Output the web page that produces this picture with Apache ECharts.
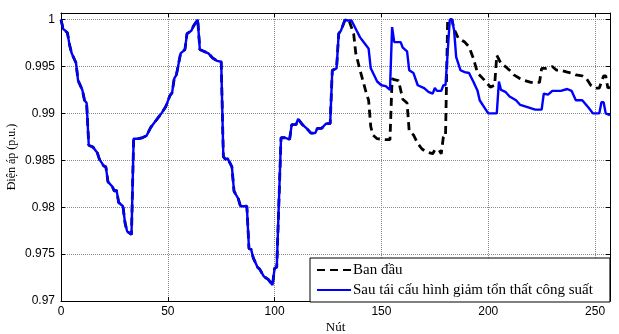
<!DOCTYPE html>
<html>
<head>
<meta charset="utf-8">
<script src="https://cdn.jsdelivr.net/npm/echarts@6/dist/echarts.min.js"></script>
<style>
  html, body { margin: 0; padding: 0; background: #fff; }
  #chart { width: 619px; height: 334px; }
</style>
</head>
<body>
<div id="chart"></div>
<script>
// Bus voltage profile (p.u.) along the feeder, before and after reconfiguration.
// Nodes where both profiles coincide (start of the feeder).
const sharedNodes = [0, 1, 3, 4, 5, 7, 8, 10, 11, 12, 13, 15, 17, 18, 20, 21, 22, 24, 25, 26, 27, 29, 30, 31, 33,
  34, 36, 38, 40, 42, 44, 46, 47, 49, 51, 52, 53, 54, 56, 58, 59, 61, 62, 64, 65, 67, 69, 71, 73, 75,
  76, 77, 78, 80, 81, 83, 84, 87, 88, 89, 90, 92, 93, 95, 97, 99, 100, 101, 103, 105, 107, 108, 110, 111,
  113, 115, 117, 119, 120, 122, 124, 126, 127, 129, 130, 131, 133];
const sharedVolt = [1.0000, 0.9990, 0.9986, 0.9973, 0.9964, 0.9954, 0.9935, 0.9925, 0.9914, 0.9911, 0.9866, 0.9864,
  0.9858, 0.9851, 0.9844, 0.9843, 0.9827, 0.9822, 0.9817, 0.9818, 0.9805, 0.9801, 0.9783, 0.9774, 0.9771,
  0.9873, 0.9873, 0.9874, 0.9876, 0.9885, 0.9891, 0.9897, 0.9900, 0.9907, 0.9919, 0.9922, 0.9937, 0.9941,
  0.9964, 0.9968, 0.9985, 0.9988, 0.9993, 1.0000, 0.9968, 0.9966, 0.9964, 0.9959, 0.9956, 0.9955,
  0.9854, 0.9851, 0.9852, 0.9843, 0.9817, 0.9809, 0.9801, 0.9801, 0.9756, 0.9755, 0.9746, 0.9736, 0.9734,
  0.9726, 0.9723, 0.9717, 0.9735, 0.9736, 0.9874, 0.9874, 0.9872, 0.9888, 0.9888, 0.9894,
  0.9888, 0.9884, 0.9879, 0.9879, 0.9884, 0.9884, 0.9889, 0.9889, 0.9946, 0.9948, 0.9985, 0.9988, 1.0000];

// "Ban đầu" (initial configuration), from node 134 on.
const initialNodes = [134, 135, 137, 138, 140, 143, 144, 145, 146, 148, 152, 154, 155, 156, 158, 160, 162, 163, 165,
  167, 169, 171, 174, 175, 177, 178, 179, 180, 181, 183, 184, 186, 189, 191, 193, 195, 198, 201, 203, 204,
  206, 208, 210, 212, 215, 217, 220, 224, 225, 227, 230, 232, 234, 237, 239, 241, 244, 246, 248, 250, 252,
  254, 255, 256, 257];
const initialVolt = [1.0000, 0.9998, 0.9985, 0.9964, 0.9946, 0.9921, 0.9914, 0.9886, 0.9877, 0.9873, 0.9872, 0.9872,
  0.9937, 0.9936, 0.9935, 0.9915, 0.9911, 0.9881, 0.9877, 0.9868, 0.9862, 0.9859, 0.9857, 0.9861, 0.9861,
  0.9857, 0.9875, 0.9875, 1.0000, 1.0000, 0.9990, 0.9980, 0.9976, 0.9971, 0.9959, 0.9943, 0.9936, 0.9928,
  0.9930, 0.9962, 0.9953, 0.9950, 0.9946, 0.9941, 0.9937, 0.9935, 0.9933, 0.9933, 0.9948, 0.9948, 0.9950,
  0.9946, 0.9946, 0.9944, 0.9943, 0.9941, 0.9940, 0.9937, 0.9930, 0.9927, 0.9927, 0.9940, 0.9940, 0.9927,
  0.9928];

// "Sau tái cấu hình giảm tổn thất công suất" (after loss-minimising reconfiguration), from node 134 on.
const reconfNodes = [134, 136, 138, 140, 142, 144, 145, 148, 150, 152, 154, 155, 156, 159, 160, 162, 163, 165, 167,
  170, 172, 174, 175, 176, 178, 179, 180, 182, 183, 184, 185, 187, 189, 191, 193, 195, 196, 198, 200, 203,
  204, 205, 206, 208, 210, 213, 215, 218, 222, 225, 226, 228, 230, 234, 237, 239, 241, 244, 247, 249, 252,
  253, 254, 255, 257];
const reconfVolt = [0.9999, 0.9999, 0.9990, 0.9981, 0.9975, 0.9969, 0.9948, 0.9934, 0.9930, 0.9929, 0.9925, 0.9992,
  0.9976, 0.9976, 0.9970, 0.9966, 0.9946, 0.9943, 0.9930, 0.9927, 0.9923, 0.9921, 0.9927, 0.9924, 0.9924,
  0.9930, 0.9930, 1.0000, 1.0000, 0.9989, 0.9960, 0.9946, 0.9944, 0.9943, 0.9934, 0.9924, 0.9914, 0.9907,
  0.9900, 0.9900, 0.9900, 0.9934, 0.9925, 0.9923, 0.9918, 0.9914, 0.9909, 0.9907, 0.9904, 0.9904, 0.9921,
  0.9920, 0.9924, 0.9924, 0.9926, 0.9924, 0.9914, 0.9914, 0.9906, 0.9900, 0.9900, 0.9912, 0.9912, 0.9900,
  0.9898];

const seriesNames = ['Ban đầu', 'Sau tái cấu hình giảm tổn thất công suất'];
const xTicks = { min: 0, max: 257, step: 50 };
const yTicks = { min: 0.97, max: 1.0007, step: 0.005 };

function pairs(nodesA, voltA, nodesB, voltB) {
  const out = [];
  nodesA.forEach((n, i) => out.push([n, voltA[i]]));
  nodesB.forEach((n, i) => out.push([n, voltB[i]]));
  return out;
}

const initialData = pairs(sharedNodes, sharedVolt, initialNodes, initialVolt);
const reconfData = pairs(sharedNodes, sharedVolt, reconfNodes, reconfVolt);

const sans = 'Liberation Sans, Arial, sans-serif';
const serif = 'Liberation Serif, Times New Roman, serif';
const boxLine = { show: true, onZero: false, lineStyle: { color: '#000', width: 1 } };
const innerTick = { show: true, inside: true, length: 4, lineStyle: { color: '#000', width: 1 } };
const grid = { show: true, type: [1, 1], color: '#8a8a8a', width: 1 };

function yLabel(v) {
  const k = Math.round(v / yTicks.step);
  if (Math.abs(v - k * yTicks.step) > 1e-6) return '';
  return String(+(k * yTicks.step).toFixed(3));
}

const chart = echarts.init(document.getElementById('chart'), null, { renderer: 'canvas' });
chart.setOption({
  animation: false,
  backgroundColor: '#fff',
  grid: { left: 61, right: 9, top: 13, bottom: 33, containLabel: false, outerBoundsMode: 'none' },
  xAxis: [
    {
      type: 'value', min: xTicks.min, max: xTicks.max, interval: xTicks.step, position: 'bottom',
      name: 'Nút', nameLocation: 'middle', nameGap: 20, nameMoveOverlap: false,
      nameTextStyle: { fontFamily: serif, fontSize: 13, color: '#000' },
      axisLine: boxLine, axisTick: innerTick,
      axisLabel: { fontFamily: sans, fontSize: 12, color: '#000', margin: 5 },
      splitLine: { show: true, lineStyle: grid }
    },
    {
      type: 'value', min: xTicks.min, max: xTicks.max, interval: xTicks.step, position: 'top',
      axisLine: boxLine, axisTick: innerTick, axisLabel: { show: false }, splitLine: { show: false }
    }
  ],
  yAxis: [
    {
      type: 'value', min: yTicks.min, max: yTicks.max, interval: yTicks.step, position: 'left',
      name: 'Điện áp (p.u.)', nameLocation: 'middle', nameGap: 43, nameMoveOverlap: false,
      nameTextStyle: { fontFamily: serif, fontSize: 12, color: '#000' },
      axisLine: boxLine, axisTick: innerTick,
      axisLabel: { fontFamily: sans, fontSize: 12, color: '#000', margin: 6, formatter: yLabel },
      splitLine: { show: true, lineStyle: grid }
    },
    {
      type: 'value', min: yTicks.min, max: yTicks.max, interval: yTicks.step, position: 'right',
      axisLine: boxLine, axisTick: innerTick, axisLabel: { show: false }, splitLine: { show: false }
    }
  ],
  legend: {
    data: seriesNames,
    orient: 'vertical',
    left: 310, top: 258,
    backgroundColor: '#fff',
    borderColor: '#000', borderWidth: 1, borderRadius: 0,
    padding: [2, 17, 2, 6],
    itemGap: 0, itemWidth: 34, itemHeight: 18,
    itemStyle: { opacity: 0 },
    textStyle: { fontFamily: serif, fontSize: 15, lineHeight: 20, color: '#000', padding: [0, 0, 0, -3] }
  },
  series: [
    {
      name: seriesNames[0], type: 'line', data: initialData, symbol: 'none', z: 2,
      lineStyle: { color: '#000', width: 2.8, type: [8, 5] },
      itemStyle: { color: '#000' }
    },
    {
      name: seriesNames[1], type: 'line', data: reconfData, symbol: 'none', z: 3,
      lineStyle: { color: '#0000ff', width: 2.4 },
      itemStyle: { color: '#0000ff' }
    }
  ]
});
</script>
</body>
</html>
